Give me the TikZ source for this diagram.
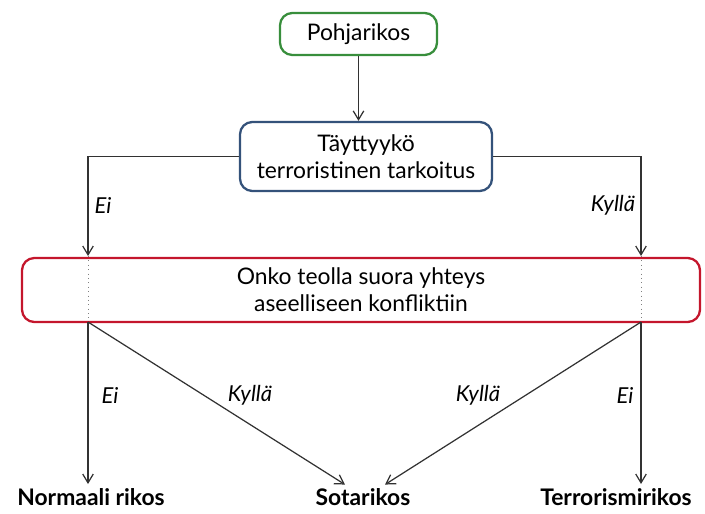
\documentclass[tikz,border=0pt]{standalone}
\usepackage{fontspec}
\setmainfont{Lato}
\usetikzlibrary{arrows.meta}

\definecolor{boxgreen}{RGB}{56,142,60}
\definecolor{boxblue}{RGB}{52,82,122}
\definecolor{boxred}{RGB}{196,22,44}
\definecolor{linegray}{RGB}{50,50,50}

\begin{document}
\begin{tikzpicture}[
    x=0.02cm, y=-0.02cm,
    font=\fontsize{13}{15.5}\selectfont,
    >={Straight Barb[length=5pt,width=6pt]},
    yhteys/.style={draw=linegray, line width=0.7pt},
    kysymys/.style={draw, rounded corners=7pt, line width=1.3pt, align=center, inner sep=0pt},
    tulos/.style={inner sep=2pt, font=\fontsize{13}{15}\selectfont\bfseries},
    vastaus/.style={font=\fontsize{12.5}{15}\selectfont\itshape}
]
        \useasboundingbox (0,0) rectangle (705,513);

        \node[kysymys, draw=boxgreen, minimum width=157*0.02cm, minimum height=42*0.02cm] (pohja) at (358.5,34) {Pohjarikos};
        \node[kysymys, draw=boxblue, minimum width=252*0.02cm, minimum height=69*0.02cm] (tayt) at (366,156.5) {Täyttyykö\\terroristinen tarkoitus};
        \node[kysymys, draw=boxred, minimum width=678*0.02cm, minimum height=64*0.02cm] (konf) at (361,290) {Onko teolla suora yhteys\\aseelliseen konfliktiin};

        \node[tulos] (normaali) at (91,497) {Normaali rikos};
        \node[tulos] (sota) at (363,497) {Sotarikos};
        \node[tulos] (terror) at (616,497) {Terrorismirikos};

        \coordinate (eiyla) at (88,256);
        \coordinate (eiala) at (88,322);
        \coordinate (kylyla) at (641,256);
        \coordinate (kylala) at (641,322);
        \coordinate (normkarki) at (88,484);
        \coordinate (terrkarki) at (641,484);

        \draw [yhteys, ->] (pohja.south) -- (pohja.south |- tayt.north);
        \draw [yhteys, ->] (tayt.west) -| (eiyla);
        \draw [yhteys, ->] (tayt.east) -| (kylyla);

        \draw [dotted, line width=0.5pt, draw=gray] (eiyla) -- (eiala);
        \draw [dotted, line width=0.5pt, draw=gray] (kylyla) -- (kylala);

        \draw [yhteys, ->] (eiala) -- (normkarki);
        \draw [yhteys, ->] (eiala) -- ([xshift=-18*0.02cm]sota.north);
        \draw [yhteys, ->] (kylala) -- ([xshift=22*0.02cm]sota.north);
        \draw [yhteys, ->] (kylala) -- (terrkarki);

        \node[vastaus] (ei1) at (103,205) {Ei};
        \node[vastaus] (kylla1) at (613,205) {Kyllä};
        \node[vastaus] (ei2) at (110,395) {Ei};
        \node[vastaus] (kylla2) at (250,395) {Kyllä};
        \node[vastaus] (kylla3) at (478,395) {Kyllä};
        \node[vastaus] (ei3) at (625,395) {Ei};
\end{tikzpicture}
\end{document}
